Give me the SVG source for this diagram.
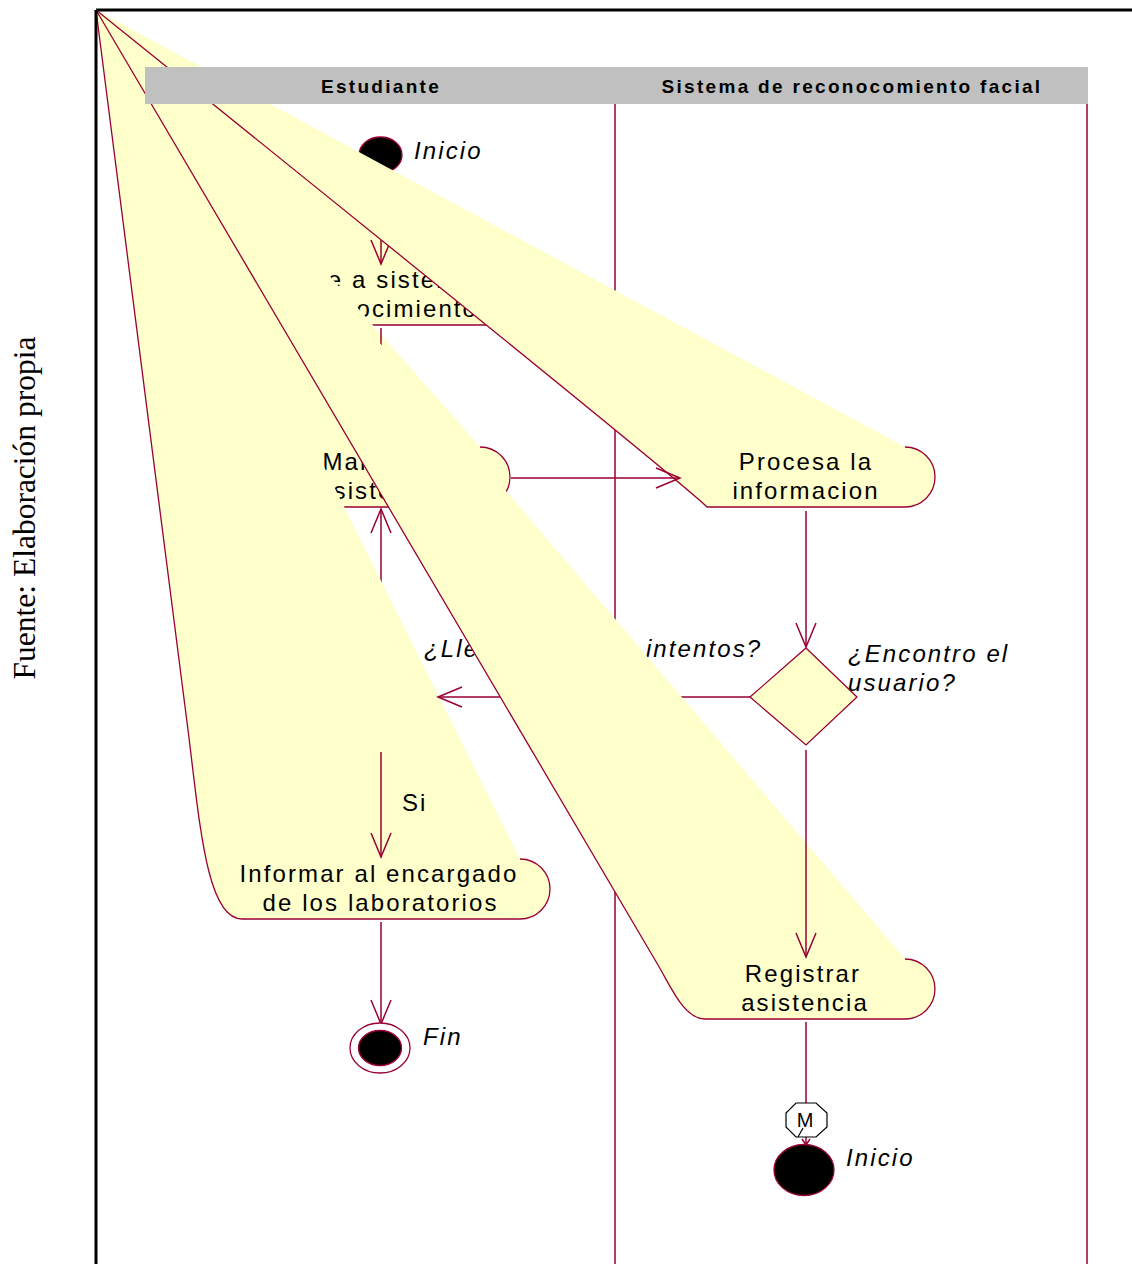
<svg xmlns="http://www.w3.org/2000/svg" width="1132" height="1264" viewBox="0 0 1132 1264">
<style>
.sh{fill:#FFFFCC;stroke:#990033;stroke-width:1.3}
.ln{fill:none;stroke:#990033;stroke-width:1.5}
.lane{stroke:#990033;stroke-width:1.5}
.t{font-family:"Liberation Sans",Arial,sans-serif;font-size:24px;letter-spacing:2.1px;fill:#000}
.c{text-anchor:middle}
.i{font-style:italic}
.h{font-family:"Liberation Sans",Arial,sans-serif;font-weight:bold;font-size:19px;letter-spacing:2.3px;text-anchor:middle;fill:#000}
.dot{fill:#000;stroke:#990033;stroke-width:1.3}
</style>
<defs>
<marker id="ah" markerUnits="userSpaceOnUse" markerWidth="28" markerHeight="24" refX="0" refY="0" orient="auto" style="overflow:visible">
<path d="M-24,-10 L0,0 L-24,10" fill="none" stroke="#990033" stroke-width="1.5"/>
</marker>
</defs>
<rect width="1132" height="1264" fill="#fff"/>
<g id="lanes">
<line class="lane" x1="615" y1="104" x2="615" y2="1264"/>
<line class="lane" x1="1087" y1="104" x2="1087" y2="1264"/>
</g>
<text id="source" font-family="'Liberation Serif','Times New Roman',serif" font-size="31.5" text-anchor="middle" transform="translate(35,508) rotate(-90)">Fuente: Elaboración propia</text>

<g id="start1">
<ellipse class="dot" cx="380.5" cy="155" rx="21.5" ry="18"/>
<text class="t i" x="414" y="159">Inicio</text>
</g>
<g id="accede">
<path class="sh" d="M96,10 C96,10 252,295 282,325 L510,325 A30,30 0 0 0 510,265"/>
<text class="t c" x="382" y="288">Accede a sistema de</text>
<text class="t c" x="382" y="317">reconocimiento</text>
</g>
<g id="edge-c1" class="connectors"><path class="ln" d="M381,171 L381,264" marker-end="url(#ah)"/></g>
<g id="marcar">
<path class="sh" d="M96,10 C96,10 252,477 282,507 L480,507 A30,30 0 0 0 480,447"/>
<text class="t c" x="382" y="470">Marcar la</text>
<text class="t c" x="382" y="499">asistencia</text>
</g>
<g id="edge-c2" class="connectors"><path class="ln" d="M381,328 L381,446" marker-end="url(#ah)"/></g>
<g id="procesa">
<path class="sh" d="M96,10 C96,10 677,477 707,507 L905,507 A30,30 0 0 0 905,447"/>
<text class="t c" x="806" y="470">Procesa la</text>
<text class="t c" x="806" y="499">informacion</text>
</g>
<g id="edge-c3" class="connectors"><path class="ln" d="M511,478 L680,478" marker-end="url(#ah)"/></g>
<g id="decision1">
<path class="sh" d="M806,648 L857,697 L806,745 L750,697 Z"/>
<text class="t i" x="848" y="662">¿Encontro el</text>
<text class="t i" x="848" y="691">usuario?</text>
</g>
<g id="edge-c4" class="connectors"><path class="ln" d="M806,511 L806,647" marker-end="url(#ah)"/></g>
<g id="decision2">
<path class="sh" d="M381,649 L437,697 L381,745 L325,697 Z"/>
</g>
<g id="edge-c6" class="connectors"><path class="ln" d="M381,649 L381,509" marker-end="url(#ah)"/></g>
<g id="informar">
<path class="sh" d="M96,10 L188,730 C199.5,820 206,919 242,919 L520,919 A30,30 0 0 0 520,859"/>
<text class="t c" x="379" y="882">Informar al encargado</text>
<text class="t c" x="380.5" y="911">de los laboratorios</text>
</g>
<g id="edge-c5" class="connectors">
<path class="ln" d="M750,697 L438,697" marker-end="url(#ah)"/>
<text class="t i" x="424" y="657">¿Llego a los tres intentos?</text>
</g>
<g id="edge-c7" class="connectors">
<path class="ln" d="M381,752 L381,857" marker-end="url(#ah)"/>
<text class="t" x="402" y="811">Si</text>
</g>
<g id="registrar">
<path class="sh" d="M96,10 L658,965 C671,987 684,1019 705,1019 L905,1019 A30,30 0 0 0 905,959"/>
<text class="t c" x="803" y="982">Registrar</text>
<text class="t c" x="805" y="1011">asistencia</text>
</g>
<g id="edge-c8" class="connectors"><path class="ln" d="M806,750 L806,957" marker-end="url(#ah)"/></g>
<g id="edge-c9" class="connectors"><path class="ln" d="M381,922 L381,1024" marker-end="url(#ah)"/></g>
<g id="fin">
<ellipse cx="380" cy="1048" rx="30" ry="25" fill="#fff" stroke="#990033" stroke-width="1.3"/>
<ellipse class="dot" cx="380" cy="1048" rx="21.5" ry="17.5"/>
<text class="t i" x="423" y="1045">Fin</text>
</g>
<g id="edge-c10" class="connectors">
<path class="ln" d="M806,1022 L806,1103"/>
<path class="ln" d="M806,1137 L806,1145 M802,1139 L806,1145 L810,1139" stroke-width="1.3"/>
</g>
<g id="merge-m">
<path d="M796,1103 L816,1103 L827,1113 L827,1127 L816,1137 L796,1137 L786,1127 L786,1113 Z" fill="#fff" stroke="#000" stroke-width="1.2"/>
<line x1="798" y1="1137" x2="803" y2="1128" stroke="#000" stroke-width="1.2"/>
<text font-family="'Liberation Sans',Arial,sans-serif" font-size="20" text-anchor="middle" x="805" y="1127">M</text>
</g>
<g id="start2">
<ellipse class="dot" cx="804" cy="1170" rx="30" ry="25.5"/>
<text class="t i" x="846" y="1166">Inicio</text>
</g>
<g id="header">
<rect x="145" y="67" width="943" height="37" fill="#C0C0C0"/>
<text class="h" x="381" y="93">Estudiante</text>
<text class="h" x="852" y="93">Sistema de reconocomiento facial</text>
</g>
<g id="frame">
<line x1="96" y1="10" x2="1132" y2="10" stroke="#000" stroke-width="3"/>
<line x1="96" y1="10" x2="96" y2="1264" stroke="#000" stroke-width="3"/>
</g>
</svg>
